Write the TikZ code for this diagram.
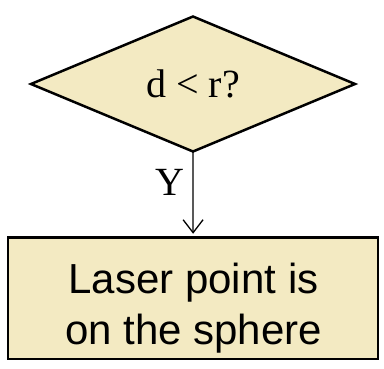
\documentclass[tikz,border=0pt]{standalone}
\usepackage{fontspec}
\setmainfont{Liberation Serif}
\newfontfamily\boxfont{Liberation Sans}
\usetikzlibrary{shapes.geometric,arrows.meta}
\definecolor{boxfill}{RGB}{243,234,194}
\begin{document}
\begin{tikzpicture}[x=1pt,y=-1pt,
  decision/.style={diamond, draw=black, fill=boxfill, line width=2.5pt,
    minimum width=324pt, minimum height=135pt, inner sep=0pt, outer sep=0pt,
    font=\fontsize{40}{48}\selectfont},
  procbox/.style={rectangle, draw=black, fill=boxfill, line width=2.5pt,
    minimum width=369.8pt, minimum height=121.5pt, inner sep=0pt, outer sep=0pt},
  proctext/.style={align=center, inner sep=0pt, font=\boxfont\fontsize{42}{51}\selectfont},
  flowarrow/.style={line width=1.3pt, -{Straight Barb[length=13pt,width=20pt,line width=1.3pt]}, shorten >=3.5pt},
  edgelabel/.style={inner sep=0pt, font=\fontsize{40}{48}\selectfont}]
\useasboundingbox (0,0) rectangle (384,368);
\node[decision] (dec) at (193,84) {d < r?};
\node[procbox] (box) at (193.1,298) {};
\node[proctext] (boxtext) at (193.5,308) {Laser point is\\on the sphere};
\draw[flowarrow] (dec.south) -- (box.north);
\node[edgelabel, anchor=base] (ylabel) at (170,195) {Y};
\end{tikzpicture}
\end{document}
